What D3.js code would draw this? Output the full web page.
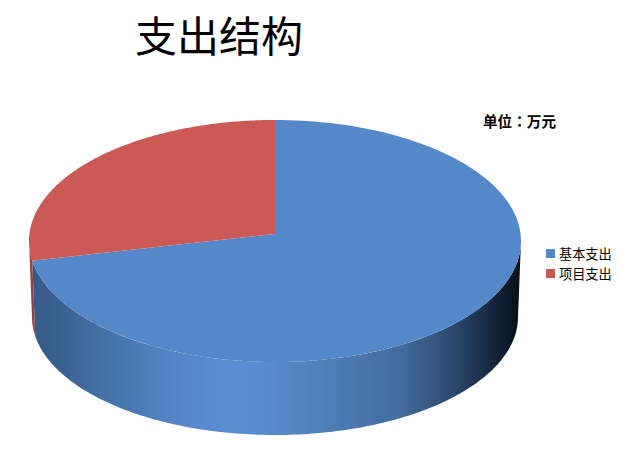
<!DOCTYPE html>
<html>
<head>
<meta charset="utf-8">
<script src="https://cdn.jsdelivr.net/npm/d3@7"></script>
<style>
  html, body { margin: 0; padding: 0; background: #fff; }
  text { font-family: "Noto Sans CJK SC", sans-serif; fill: #000; }
</style>
</head>
<body>
<svg id="chart" width="621" height="462"></svg>
<script>
const chartTitle = "支出结构";
const unitParts = ["单位", "：", "万元"];
const categories = ["基本支出", "项目支出"];
const values = [72.4, 27.6];
const topColors = ["#5588c9", "#cb5a57"];
const wallStops = [
  [0, "#365a88"], [0.07, "#3c6292"], [0.15, "#4470a6"], [0.25, "#4f80bd"],
  [0.33, "#5688cb"], [0.4, "#5a8fd4"], [0.47, "#598cd0"], [0.55, "#5383c1"],
  [0.68, "#4a75ab"], [0.76, "#426a9b"], [0.86, "#2d4a70"], [0.94, "#15273d"],
  [1, "#060d16"]
];

const cx = 275;
// the face is seen in perspective: outline centre and apex differ
const top3d = { cy: 241, rx: 246, ry: 121, apexY: 234 };
const bottom3d = { cy: 317, rx: 243, ry: 118 };

const svg = d3.select("#chart");

const pie = d3.pie().value(d => d).sort(null);
const arcs = pie(values);

const onEllipse = (e, a) => [cx + e.rx * Math.sin(a), e.cy - e.ry * Math.cos(a)];
const line = d3.line();

const grad = svg.append("defs").append("linearGradient")
  .attr("id", "wall")
  .attr("gradientUnits", "userSpaceOnUse")
  .attr("x1", cx - top3d.rx).attr("x2", cx + top3d.rx)
  .attr("y1", 0).attr("y2", 0);
grad.selectAll("stop").data(wallStops).join("stop")
  .attr("offset", d => d[0])
  .attr("stop-color", d => d[1]);

function sweep(a0, a1) {
  const n = 160;
  const t = d3.scaleLinear().domain([0, n]).range([a0, a1]);
  return d3.range(n + 1).map(t);
}

// side wall, only the front half (90deg - 270deg) shows
function wallPath(a0, a1) {
  const s = Math.max(a0, Math.PI / 2), e = Math.min(a1, Math.PI * 1.5);
  if (e <= s) return null;
  const angles = sweep(s, e);
  return line([
    ...angles.map(a => onEllipse(bottom3d, a)),
    ...angles.slice().reverse().map(a => onEllipse(top3d, a))
  ]) + "Z";
}

svg.append("path")
  .attr("d", wallPath(arcs[1].startAngle, arcs[1].endAngle))
  .attr("fill", "#9a3f3c");
svg.append("path")
  .attr("d", wallPath(arcs[0].startAngle, arcs[0].endAngle))
  .attr("fill", "url(#wall)");

// top face
svg.append("g")
  .selectAll("path")
  .data(arcs)
  .join("path")
  .attr("d", d => line([[cx, top3d.apexY], ...sweep(d.startAngle, d.endAngle).map(a => onEllipse(top3d, a))]) + "Z")
  .attr("fill", (d, i) => topColors[i]);

svg.append("text")
  .attr("x", 135).attr("y", 52)
  .attr("font-size", 42)
  .text(chartTitle);

const unit = svg.append("text")
  .attr("x", 483).attr("y", 127)
  .attr("font-size", 14.6)
  .attr("font-weight", "bold");
unit.selectAll("tspan")
  .data(unitParts)
  .join("tspan")
  .style("font-family", (d, i) => i === 1 ? '"Noto Sans CJK TC"' : null)
  .text(d => d);

const legend = svg.append("g")
  .selectAll("g")
  .data(categories)
  .join("g")
  .attr("transform", (d, i) => `translate(546,${249 + i * 20})`);
legend.append("rect")
  .attr("width", 9).attr("height", 9)
  .attr("fill", (d, i) => topColors[i]);
legend.append("text")
  .attr("x", 13).attr("y", 9.5)
  .attr("font-size", 13.2)
  .text(d => d);
</script>
</body>
</html>
